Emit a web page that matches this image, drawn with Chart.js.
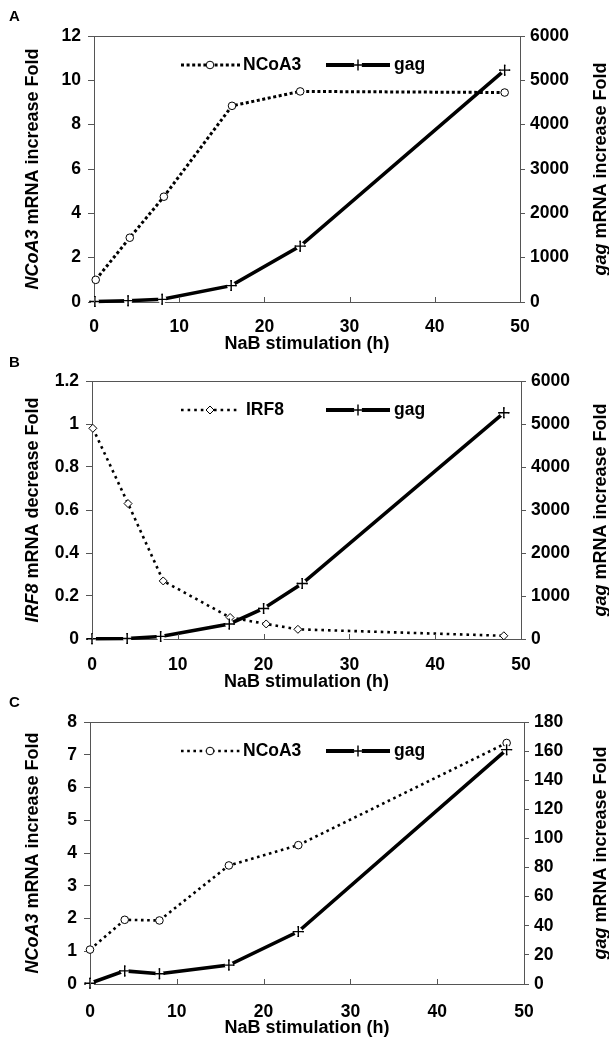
<!DOCTYPE html>
<html><head><meta charset="utf-8">
<script src="https://cdn.jsdelivr.net/npm/chart.js@4.4.1/dist/chart.umd.min.js"></script>
<style>
html,body{margin:0;padding:0;background:#fff;width:609px;height:1039px;overflow:hidden;position:relative;}
.p{position:absolute;left:0;width:609px;}
</style></head><body>
<div class="p" style="top:0px;height:360px"><canvas id="ca"></canvas></div>
<div class="p" style="top:346px;height:360px"><canvas id="cb"></canvas></div>
<div class="p" style="top:692px;height:347px"><canvas id="cc"></canvas></div>
<script>
// ---------- DATA ----------
const xTitle = 'NaB stimulation (h)';
const xTicks = [0, 10, 20, 30, 40, 50];

// Panel A
const a_NCoA3_hours = [0.2, 4.2, 8.2, 16.2, 24.2, 48.2];
const a_NCoA3_fold  = [1.0, 2.9, 4.75, 8.85, 9.5, 9.45];
const a_gag_hours   = [0.1, 4.0, 8.0, 16.1, 24.2, 48.2];
const a_gag_fold    = [10, 30, 60, 370, 1260, 5230];
const a_leftTicks   = [0, 2, 4, 6, 8, 10, 12];
const a_rightTicks  = [0, 1000, 2000, 3000, 4000, 5000, 6000];

// Panel B
const b_IRF8_hours  = [0.1, 4.2, 8.3, 16.1, 20.3, 24.0, 48.0];
const b_IRF8_fold   = [0.98, 0.63, 0.27, 0.10, 0.07, 0.045, 0.015];
const b_gag_hours   = [0.0, 4.1, 8.0, 16.0, 20.0, 24.5, 48.0];
const b_gag_fold    = [5, 10, 60, 350, 710, 1290, 5260];
const b_leftTicks   = [0, 0.2, 0.4, 0.6, 0.8, 1.0, 1.2];
const b_rightTicks  = [0, 1000, 2000, 3000, 4000, 5000, 6000];

// Panel C
const c_NCoA3_hours = [0.0, 4.0, 8.0, 16.0, 24.0, 48.0];
const c_NCoA3_fold  = [1.05, 1.96, 1.94, 3.62, 4.24, 7.36];
const c_gag_hours   = [0.0, 4.0, 8.0, 16.0, 24.0, 48.0];
const c_gag_fold    = [0.5, 9, 7, 13, 36, 161];
const c_leftTicks   = [0, 1, 2, 3, 4, 5, 6, 7, 8];
const c_rightTicks  = [0, 20, 40, 60, 80, 100, 120, 140, 160, 180];

// ---------- STYLE ----------
const FF = '"Liberation Sans", Arial, Helvetica, sans-serif';
const FRAME = '#555';
Chart.defaults.font.family = FF;
Chart.defaults.color = '#000';

function pts(xs, ys){ return xs.map((x,i)=>({x:x, y:ys[i]})); }
function fmt(v){ return String(Math.round(v*1000)/1000); }

function drawCross(ctx, x, y){
  ctx.save();
  ctx.fillStyle = '#fff';
  ctx.beginPath(); ctx.arc(x, y, 4.2, 0, Math.PI*2); ctx.fill();
  ctx.strokeStyle = '#000'; ctx.lineWidth = 1.4;
  ctx.beginPath();
  Chart.helpers.drawPoint(ctx, {pointStyle:'cross', radius:5.5, borderWidth:1.4, rotation:0}, x, y);
  ctx.restore();
}

function drawRot(ctx, segs, cx, cy){
  ctx.save();
  ctx.translate(cx, cy);
  ctx.rotate(-Math.PI/2);
  ctx.textBaseline = 'middle';
  ctx.textAlign = 'left';
  let total = 0;
  segs.forEach(s=>{ ctx.font = (s.i?'italic ':'')+'bold 18px '+FF; total += ctx.measureText(s.t).width; });
  let x = -total/2;
  segs.forEach(s=>{ ctx.font = (s.i?'italic ':'')+'bold 18px '+FF; ctx.fillText(s.t, x, 0); x += ctx.measureText(s.t).width; });
  ctx.restore();
}

function makePanel(canvasId, P){
  const H = P.height;
  const plugin = {
    id: 'deco',
    afterDatasetsDraw(chart){
      // gag markers: cross with a small white halo that interrupts the line
      const meta = chart.getDatasetMeta(1);
      meta.data.forEach(el => drawCross(chart.ctx, el.x, el.y));
    },
    afterDraw(chart){
      const ctx = chart.ctx, a = chart.chartArea;
      ctx.save();
      // top frame
      ctx.strokeStyle = FRAME; ctx.lineWidth = 1;
      ctx.beginPath(); ctx.moveTo(a.left, a.top+0.5); ctx.lineTo(a.right, a.top+0.5); ctx.stroke();
      // inside x ticks
      const xs = chart.scales.x;
      xTicks.forEach(v=>{
        const px = Math.round(xs.getPixelForValue(v))+0.5;
        ctx.beginPath(); ctx.moveTo(px, a.bottom); ctx.lineTo(px, a.bottom-5); ctx.stroke();
      });
      // panel letter
      ctx.fillStyle = '#000';
      ctx.font = 'bold 15px '+FF; ctx.textAlign='left'; ctx.textBaseline='middle';
      ctx.fillText(P.letter, 9, P.letterY);
      // x title
      ctx.font = 'bold 18px '+FF; ctx.textAlign='center'; ctx.textBaseline='middle';
      ctx.fillText(xTitle, (a.left+a.right)/2, a.bottom+P.xTitleOff);
      // y titles
      const cy = (a.top+a.bottom)/2;
      drawRot(ctx, P.leftTitle, 33, cy);
      drawRot(ctx, P.rightTitle, 601, cy);
      // legend
      const ly = a.top + 29;
      const lx = 181;
      // dotted entry
      ctx.strokeStyle = '#000'; ctx.lineWidth = P.dotW; ctx.setLineDash(P.dash); ctx.lineCap='butt';
      ctx.beginPath(); ctx.moveTo(lx, ly); ctx.lineTo(lx+59, ly); ctx.stroke();
      ctx.setLineDash([]);
      ctx.fillStyle = '#fff'; ctx.strokeStyle='#000'; ctx.lineWidth = 1;
      ctx.beginPath();
      Chart.helpers.drawPoint(ctx, {pointStyle:P.marker, radius:P.markerR, borderWidth:1, rotation:0}, lx+29, ly);
      ctx.fillStyle = '#000'; ctx.font = 'bold 17.5px '+FF; ctx.textAlign='left'; ctx.textBaseline='middle';
      ctx.fillText(P.legend1, lx+62+P.leg1Gap, ly);
      // solid entry
      ctx.strokeStyle = '#000'; ctx.lineWidth = 4;
      ctx.beginPath(); ctx.moveTo(lx+145, ly); ctx.lineTo(lx+209, ly); ctx.stroke();
      drawCross(ctx, lx+177, ly);
      ctx.fillStyle = '#000';
      ctx.fillText('gag', lx+213, ly);
      ctx.restore();
    }
  };

  const yl = P.leftTicks, yr = P.rightTicks;
  return new Chart(document.getElementById(canvasId), {
    type: 'line',
    data: {
      datasets: [
        {
          label: P.legend1,
          data: pts(P.x1, P.y1),
          yAxisID: 'y',
          borderColor: '#000', borderWidth: P.dotW, borderDash: P.dash, borderCapStyle:'butt',
          pointStyle: P.marker, pointRadius: P.markerR, pointBorderWidth: 1,
          pointBackgroundColor: '#fff', pointBorderColor: '#000',
          tension: 0, fill: false, clip: false, order: 1
        },
        {
          label: 'gag',
          data: pts(P.x2, P.y2),
          yAxisID: 'y2',
          borderColor: '#000', borderWidth: 3.5,
          pointStyle: 'cross', pointRadius: 5.5, pointBorderWidth: 1.4,
          pointBorderColor: '#000',
          tension: 0, fill: false, clip: false, order: 2
        }
      ]
    },
    options: {
      responsive: true, maintainAspectRatio: false, animation: false,
      layout: { padding: { top: P.top, left: 0, right: 0, bottom: 0 } },
      plugins: { legend: { display: false }, tooltip: { enabled: false } },
      scales: {
        x: {
          type: 'linear', min: xTicks[0], max: xTicks[xTicks.length-1],
          afterBuildTicks: s => { s.ticks = xTicks.map(v=>({value:v})); },
          afterFit: s => { s.height = H - P.bottom; },
          grid: { display: false },
          border: { display: true, color: FRAME, width: 1 },
          ticks: { font: { size: 17.5, weight: 'bold' }, padding: P.xTickPad, maxRotation: 0, callback: v => fmt(v) }
        },
        y: {
          type: 'linear', position: 'left', min: yl[0], max: yl[yl.length-1],
          afterBuildTicks: s => { s.ticks = yl.map(v=>({value:v})); },
          afterFit: s => { s.width = P.left; },
          grid: { drawOnChartArea: false, drawTicks: true, tickLength: 6, color: FRAME },
          border: { display: true, color: FRAME, width: 1 },
          ticks: { font: { size: 17.5, weight: 'bold' }, padding: 7, callback: v => fmt(v) }
        },
        y2: {
          type: 'linear', position: 'right', min: yr[0], max: yr[yr.length-1],
          afterBuildTicks: s => { s.ticks = yr.map(v=>({value:v})); },
          afterFit: s => { s.width = 609 - P.right; },
          grid: { drawOnChartArea: false, drawTicks: true, tickLength: 5, color: FRAME },
          border: { display: true, color: FRAME, width: 1 },
          ticks: { font: { size: 17.5, weight: 'bold' }, padding: 5, callback: v => fmt(v) }
        }
      }
    },
    plugins: [plugin]
  });
}

makePanel('ca', {
  height: 360, top: 36, bottom: 302, left: 94, right: 520, xTickPad: 7, xTitleOff: 42,
  letter: 'A', letterY: 17,
  x1: a_NCoA3_hours, y1: a_NCoA3_fold, x2: a_gag_hours, y2: a_gag_fold,
  leftTicks: a_leftTicks, rightTicks: a_rightTicks,
  marker: 'circle', markerR: 3.8, dotW: 3, dash: [3, 2.6],
  legend1: 'NCoA3', leg1Gap: 0,
  leftTitle: [{t:'NCoA3', i:true}, {t:' mRNA increase Fold', i:false}],
  rightTitle: [{t:'gag', i:true}, {t:' mRNA increase Fold', i:false}]
});
makePanel('cb', {
  height: 360, top: 35, bottom: 293, left: 92, right: 521, xTickPad: 8, xTitleOff: 43,
  letter: 'B', letterY: 17,
  x1: b_IRF8_hours, y1: b_IRF8_fold, x2: b_gag_hours, y2: b_gag_fold,
  leftTicks: b_leftTicks, rightTicks: b_rightTicks,
  marker: 'rectRot', markerR: 4, dotW: 2.6, dash: [2.6, 4],
  legend1: 'IRF8', leg1Gap: 3,
  leftTitle: [{t:'IRF8', i:true}, {t:' mRNA decrease Fold', i:false}],
  rightTitle: [{t:'gag', i:true}, {t:' mRNA increase Fold', i:false}]
});
makePanel('cc', {
  height: 347, top: 30, bottom: 292, left: 90, right: 524, xTickPad: 10, xTitleOff: 44,
  letter: 'C', letterY: 11,
  x1: c_NCoA3_hours, y1: c_NCoA3_fold, x2: c_gag_hours, y2: c_gag_fold,
  leftTicks: c_leftTicks, rightTicks: c_rightTicks,
  marker: 'circle', markerR: 3.8, dotW: 2.6, dash: [2.6, 3.6],
  legend1: 'NCoA3', leg1Gap: 0,
  leftTitle: [{t:'NCoA3', i:true}, {t:' mRNA increase Fold', i:false}],
  rightTitle: [{t:'gag', i:true}, {t:' mRNA increase Fold', i:false}]
});
</script>
</body></html>
